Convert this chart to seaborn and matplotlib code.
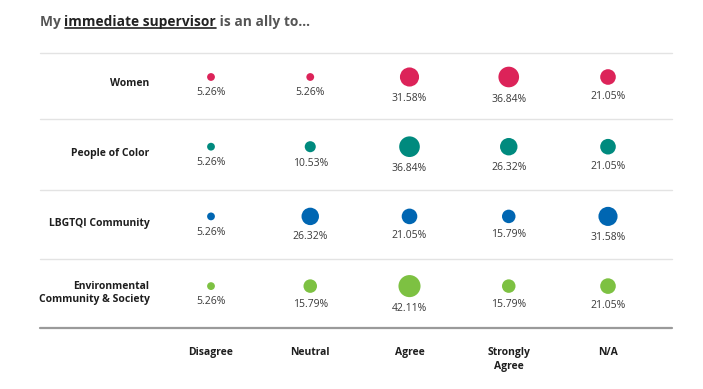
import pandas as pd
import seaborn as sns
import matplotlib.pyplot as plt

# Survey data: share of responses per group and answer
groups = ["Women", "People of Color", "LBGTQI Community", "Environmental\nCommunity & Society"]
answers = ["Disagree", "Neutral", "Agree", "Strongly\nAgree", "N/A"]
women = [5.26, 5.26, 31.58, 36.84, 21.05]
people_of_color = [5.26, 10.53, 36.84, 26.32, 21.05]
lbgtqi = [5.26, 26.32, 21.05, 15.79, 31.58]
environmental = [5.26, 15.79, 42.11, 15.79, 21.05]
colors = ["#dc2359", "#008a7e", "#0066b2", "#7dc142"]

rows = []
for g, vals in zip(groups, [women, people_of_color, lbgtqi, environmental]):
    for a, v in zip(answers, vals):
        rows.append({"group": g, "answer": a, "pct": v})
df = pd.DataFrame(rows)
df["xi"] = df["answer"].map({a: i for i, a in enumerate(answers)})
df["yi"] = df["group"].map({g: i for i, g in enumerate(groups)})

sns.set_style("white")
plt.rcParams["font.family"] = ["Open Sans", "DejaVu Sans"]

fig = plt.figure(figsize=(7.03, 3.89), dpi=100)
ax = fig.add_axes([0, 0, 1, 1])

size_k = 6.0
sns.scatterplot(data=df, x="xi", y="yi", hue="group", palette=colors,
                size="pct", sizes=(size_k * df.pct.min(), size_k * df.pct.max()),
                size_norm=(df.pct.min(), df.pct.max()),
                linewidth=0, legend=False, ax=ax)

# percentage labels just below each bubble
for _, r in df.iterrows():
    rad = (size_k * r.pct) ** 0.5 / 2
    ax.annotate(f"{r.pct:.2f}%", (r.xi, r.yi), xytext=(0, -rad - 4.5),
                textcoords="offset points", ha="center", va="top",
                fontsize=7.5, color="#3a3a3a")

# pixel-matched data range
ax.set_xlim(-211 / 99.25, (703 - 211) / 99.25)
ax.set_ylim((389 - 77) / 69.7, -77 / 69.7)
ax.axis("off")

x0, x1 = -1.723, 4.645
for yb in [-0.345, 0.6, 1.62, 2.61]:
    ax.plot([x0, x1], [yb, yb], color="#e3e3e3", lw=1, zorder=0)
ax.plot([x0, x1], [3.6, 3.6], color="#9a9a9a", lw=1.6, zorder=0)

for j, g in enumerate(groups):
    ax.text(-0.62, j + 0.1, g, ha="right", va="center", fontsize=7.5,
            fontweight="bold", color="#1e1e1e", linespacing=1.35)
for i, a in enumerate(answers):
    ax.text(i, 3.875, a, ha="center", va="top", fontsize=7.5,
            fontweight="bold", color="#1e1e1e", linespacing=1.35)

# title with underlined middle part
fig.canvas.draw()
rend = fig.canvas.get_renderer()
ty = 1 - 22 / 389
parts = [("My ", "#555555"), ("immediate supervisor", "#222222"), (" is an ally to...", "#555555")]
xpos = 40 / 703
for k, (txt, c) in enumerate(parts):
    t = fig.text(xpos, ty, txt, fontsize=9.9, fontweight="bold", color=c,
                 ha="left", va="center")
    bb = t.get_window_extent(rend).transformed(fig.transFigure.inverted())
    if k == 1:
        uy = bb.y0 + 0.1 * bb.height
        fig.add_artist(plt.Line2D([bb.x0, bb.x1], [uy, uy], color=c, lw=1.2))
    xpos = bb.x1

fig.savefig("out.png", dpi=100)
